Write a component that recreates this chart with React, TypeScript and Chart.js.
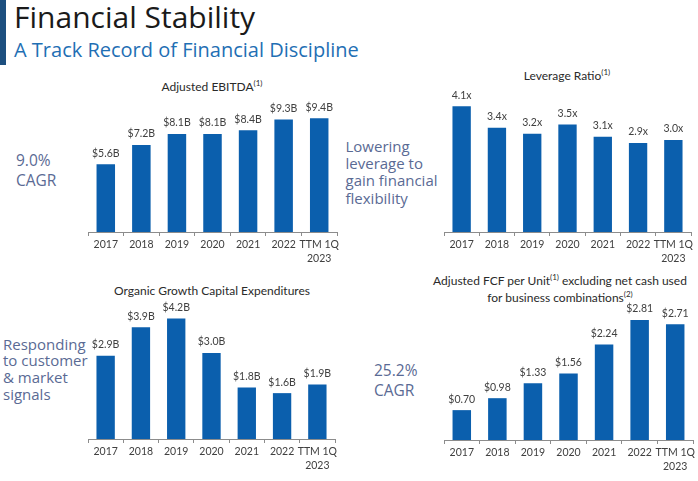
import React, { useEffect, useRef } from "react";
import { Chart, registerables } from "chart.js";

Chart.register(...registerables);

const categories: (string | string[])[] = ["2017", "2018", "2019", "2020", "2021", "2022", ["TTM 1Q", "2023"]];
const ebitdaValues = [5.6, 7.2, 8.1, 8.1, 8.4, 9.3, 9.4];
const leverageValues = [4.1, 3.4, 3.2, 3.5, 3.1, 2.9, 3.0];
const capexValues = [2.9, 3.9, 4.2, 3.0, 1.8, 1.6, 1.9];
const fcfValues = [0.7, 0.98, 1.33, 1.56, 2.24, 2.81, 2.71];

const CHART_FONT = "Lato, 'Open Sans', sans-serif";
const SLIDE_FONT = "'Open Sans', 'Noto Sans', sans-serif";
const BAR_COLOR = "#0b5fad";
const TEXT_DARK = "#404040";
const SIDE_COLOR = "#5a6a94";

type PanelProps = {
  values: number[];
  fmt: (v: number) => string;
  axisLeft: number;
  axisRight: number;
  baseline: number;
  pxPerUnit: number;
  yMax: number;
};

function BarPanel({ values, fmt, axisLeft, axisRight, baseline, pxPerUnit, yMax }: PanelProps) {
  const ref = useRef<HTMLCanvasElement>(null);
  const padTop = 30;
  const padSide = 10;
  const axisH = 40;
  const plotH = yMax * pxPerUnit;
  const width = Math.round(axisRight - axisLeft + padSide * 2);
  const height = Math.round(padTop + plotH + axisH);
  const left = axisLeft - padSide;
  const top = Math.round(baseline - plotH - padTop);

  useEffect(() => {
    const chart = new Chart(ref.current!, {
      type: "bar",
      data: {
        labels: categories as any,
        datasets: [
          {
            data: values,
            backgroundColor: BAR_COLOR,
            categoryPercentage: 1,
            barPercentage: 0.52,
          },
        ],
      },
      options: {
        animation: false,
        responsive: false,
        devicePixelRatio: 1,
        layout: { padding: { top: padTop, left: padSide, right: padSide, bottom: 0 } },
        plugins: { legend: { display: false }, tooltip: { enabled: false }, title: { display: false } },
        scales: {
          x: {
            grid: {
              display: true,
              drawOnChartArea: false,
              drawTicks: true,
              tickLength: 4,
              color: "#8c8c8c",
              offset: true,
            },
            border: { display: true, color: "#8c8c8c", width: 1 },
            ticks: {
              color: TEXT_DARK,
              font: { family: CHART_FONT, size: 10.5, lineHeight: 1.33 },
              padding: 2,
              maxRotation: 0,
              autoSkip: false,
            },
            afterFit: (s: any) => {
              s.height = axisH;
            },
          },
          y: { display: false, min: 0, max: yMax },
        },
      },
      plugins: [
        {
          id: "valueLabels",
          afterDatasetsDraw(c: any) {
            const ctx = c.ctx;
            const meta = c.getDatasetMeta(0);
            ctx.save();
            ctx.font = `10.5px ${CHART_FONT}`;
            ctx.fillStyle = TEXT_DARK;
            ctx.textAlign = "center";
            ctx.textBaseline = "middle";
            meta.data.forEach((bar: any, i: number) => {
              ctx.fillText(fmt(values[i]), bar.x, bar.y - 11);
            });
            ctx.restore();
          },
        },
      ],
    });
    return () => chart.destroy();
  }, []);

  return (
    <canvas
      ref={ref}
      width={width}
      height={height}
      style={{ position: "absolute", left, top, width, height }}
    />
  );
}

const sup = (t: string) => (
  <span style={{ fontSize: 8, position: "relative", top: -5 }}>{t}</span>
);

function ChartTitle({ cx, top, children }: { cx: number; top: number; children: React.ReactNode }) {
  return (
    <div
      style={{
        position: "absolute",
        left: cx - 160,
        width: 320,
        top,
        textAlign: "center",
        fontFamily: CHART_FONT,
        fontSize: 12,
        lineHeight: "16px",
        color: "#2a2a2a",
        whiteSpace: "nowrap",
      }}
    >
      {children}
    </div>
  );
}

function SideText({ left, top, size, lh, lines }: { left: number; top: number; size: number; lh: number; lines: string[] }) {
  return (
    <div
      style={{
        position: "absolute",
        left,
        top,
        fontFamily: SLIDE_FONT,
        fontSize: size,
        lineHeight: `${lh}px`,
        color: SIDE_COLOR,
        whiteSpace: "nowrap",
      }}
    >
      {lines.map((l, i) => (
        <div key={i}>{l}</div>
      ))}
    </div>
  );
}

export default function App() {
  return (
    <div
      style={{
        position: "absolute",
        left: 0,
        top: 0,
        width: 698,
        height: 481,
        background: "#ffffff",
        overflow: "hidden",
      }}
    >
      <div style={{ position: "absolute", left: 0, top: 0, width: 6, height: 65, background: "#1d4f7f" }} />
      <div
        style={{
          position: "absolute",
          left: 14,
          top: 1.5,
          fontFamily: SLIDE_FONT,
          fontSize: 30,
          lineHeight: "30px",
          color: "#1a1a1a",
          whiteSpace: "nowrap",
        }}
      >
        Financial Stability
      </div>
      <div
        style={{
          position: "absolute",
          left: 14,
          top: 40,
          fontFamily: SLIDE_FONT,
          fontSize: 20,
          lineHeight: "20px",
          color: "#1f6fb4",
          whiteSpace: "nowrap",
        }}
      >
        A Track Record of Financial Discipline
      </div>

      <ChartTitle cx={212} top={79}>
        Adjusted EBITDA{sup("(1)")}
      </ChartTitle>
      <ChartTitle cx={567} top={68}>
        Leverage Ratio{sup("(1)")}
      </ChartTitle>
      <ChartTitle cx={212} top={283}>
        Organic Growth Capital Expenditures
      </ChartTitle>
      <ChartTitle cx={560} top={273}>
        <div>
          Adjusted FCF per Unit{sup("(1)")} excluding net cash used
        </div>
        <div>for business combinations{sup("(2)")}</div>
      </ChartTitle>

      <SideText left={16} top={150} size={15.5} lh={20} lines={["9.0%", "CAGR"]} />
      <SideText left={345.5} top={138} size={15} lh={17.2} lines={["Lowering", "leverage to", "gain financial", "flexibility"]} />
      <SideText left={3} top={335.5} size={15} lh={16.7} lines={["Responding", "to customer", "& market", "signals"]} />
      <SideText left={374} top={360} size={15.5} lh={20} lines={["25.2%", "CAGR"]} />

      <BarPanel values={ebitdaValues} fmt={(v) => `$${v.toFixed(1)}B`} axisLeft={88} axisRight={337} baseline={232} pxPerUnit={12.13} yMax={10} />
      <BarPanel values={leverageValues} fmt={(v) => `${v.toFixed(1)}x`} axisLeft={444} axisRight={691} baseline={232} pxPerUnit={30.7} yMax={4.3} />
      <BarPanel values={capexValues} fmt={(v) => `$${v.toFixed(1)}B`} axisLeft={88} axisRight={335} baseline={439} pxPerUnit={28.6} yMax={4.5} />
      <BarPanel values={fcfValues} fmt={(v) => `$${v.toFixed(2)}`} axisLeft={444} axisRight={693} baseline={439} pxPerUnit={42.5} yMax={3} />
    </div>
  );
}
